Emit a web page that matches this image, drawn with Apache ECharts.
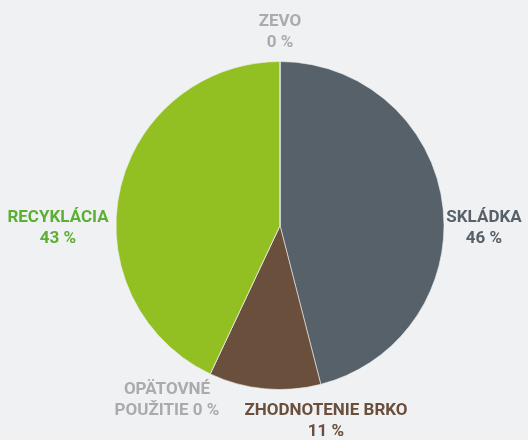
<!DOCTYPE html>
<html><head><meta charset="utf-8">
<script src="https://cdn.jsdelivr.net/npm/echarts@6/dist/echarts.min.js"></script>
<style>html,body{margin:0;padding:0;background:#f0f1f3;}#c{width:528px;height:440px;}</style>
</head><body><div id="c"></div>
<script>
const categories = ['SKLÁDKA', 'ZHODNOTENIE BRKO', 'OPÄTOVNÉ\nPOUŽITIE', 'RECYKLÁCIA', 'ZEVO'];
const values = [46, 11, 0, 43, 0];
const sliceColors = ['#56616a', '#6a4f3c', '#aaaaaa', '#92bf21', '#aaaaaa'];
const labelColors = ['#56616a', '#6a4f3c', '#ababab', '#5bb033', '#ababab'];
// label block centres (px) in the 528x440 canvas
const labelPos = [[484, 228], [326, 421], [167, 400], [58, 228], [280, 32]];

const chart = echarts.init(document.getElementById('c'), null, {renderer: 'canvas'});
chart.setOption({
  backgroundColor: '#f0f1f3',
  animation: false,
  series: [{
    type: 'pie',
    center: [280, 225.5],
    radius: 164,
    startAngle: 90,
    clockwise: true,
    avoidLabelOverlap: false,
    itemStyle: {borderColor: '#eef0f2', borderWidth: 0.6},
    emphasis: {disabled: true},
    labelLine: {show: false},
    label: {
      show: true,
      position: 'outside',
      fontFamily: "Roboto, sans-serif",
      fontWeight: 'bold',
      fontSize: 17,
      lineHeight: 21,
      align: 'center',
      formatter: p => p.name + (p.name.indexOf('\n') >= 0 ? ' ' : '\n') + p.value + ' %'
    },
    labelLayout: p => ({
      x: labelPos[p.dataIndex][0],
      y: labelPos[p.dataIndex][1],
      align: 'center',
      verticalAlign: 'middle'
    }),
    data: categories.map((c, i) => ({
      name: c,
      value: values[i],
      itemStyle: {color: sliceColors[i]},
      label: {color: labelColors[i]}
    }))
  }]
});
</script></body></html>
